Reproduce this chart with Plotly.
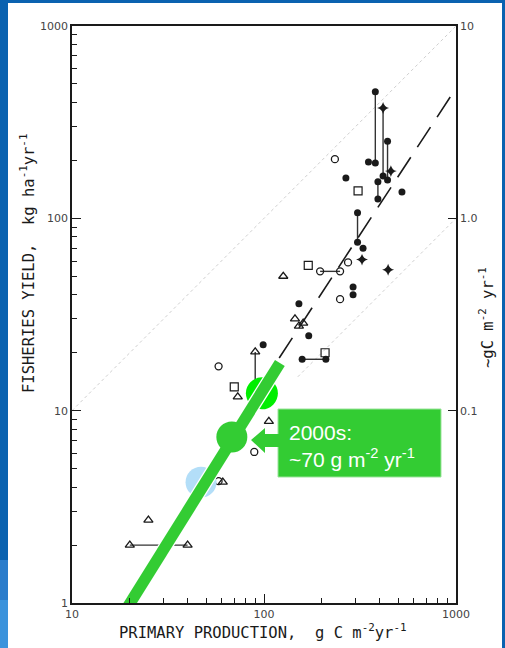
import plotly.graph_objects as go

# ---------------- data ----------------
filled_x = [380, 350, 380, 440, 417, 440, 392, 523, 392, 267, 307, 307, 328, 291, 291, 152, 171, 99, 158, 210]
filled_y = [455, 196, 194, 252, 166, 158, 155, 137, 126, 162, 107, 75, 70, 44, 40, 36, 24.5, 22, 18.5, 18.5]
star_x = [417, 458, 324, 443]
star_y = [375, 176, 61, 54]
ocirc_x = [234, 274, 196, 249, 249, 58, 89, 58]
ocirc_y = [203, 59, 53, 53, 38, 17, 6.1, 4.3]
osq_x = [309, 170, 208, 70]
osq_y = [139, 57, 20, 13.3]
otri_x = [126, 145, 160, 152, 73, 106, 61, 25, 20, 40, 90]
otri_y = [50, 30, 28.5, 27.5, 11.8, 8.8, 4.25, 2.7, 2.0, 2.0, 20.2]
# connector segments (x pairs / y pairs)
seg_x = [[380, 380], [417, 417], [440, 440], [392, 392], [307, 307], [158, 210], [196, 249], [20, 40], [90, 90]]
seg_y = [[455, 194], [375, 166], [252, 158], [155, 126], [107, 75], [18.5, 18.5], [53, 53], [2.0, 2.0], [14.4, 20.2]]
# regression (dashed) and reference (dotted) lines
reg_x = [120, 1000]
reg_y = [18.8, 475]
one_to_one_x = [10, 1000]
one_to_one_y = [10, 1000]
tenth_x = [150, 1000]
tenth_y = [15, 100]
# green highlight line and circles
green_x = [19.5, 121]
green_y = [0.953, 17.7]
circ_bright = (97.5, 12.3)
circ_dark = (68, 7.3)
circ_blue = (47, 4.25)
# tick labels
x_tickvals = [10, 100, 1000]
x_ticktext = ["10", "100", "1000"]
y_tickvals = [1, 10, 100, 1000]
y_ticktext = ["1", "10", "100", "1000"]
y2_tickvals = [0.1, 1, 10]
y2_ticktext = ["0.1", "1.0", "10"]
minor_vals = [m * d for d in (1, 10, 100) for m in range(2, 10)]

# ---------------- layout geometry ----------------
W, H = 505, 648
L, R, T, B = 72, 49, 26, 45
PW, PH = W - L - R, H - T - B


def fx(px):
    return (px - L) / PW


def fy(py):
    return (H - B - py) / PH


INK = "#1a1a1a"
GREEN = "#33cc33"
TITLE_FONT = dict(family="DejaVu Sans Mono", size=15.5, color=INK)

fig = go.Figure()

# reference lines
fig.add_trace(go.Scatter(x=one_to_one_x, y=one_to_one_y, mode="lines",
                         line=dict(color="#cfcfcf", width=1, dash="dot"), hoverinfo="skip"))
fig.add_trace(go.Scatter(x=tenth_x, y=tenth_y, mode="lines",
                         line=dict(color="#cfcfcf", width=1, dash="dot"), hoverinfo="skip"))
fig.add_trace(go.Scatter(x=reg_x, y=reg_y, mode="lines",
                         line=dict(color=INK, width=1.6, dash="24px,12px"), hoverinfo="skip"))

# connectors
cx, cy = [], []
for a, b in zip(seg_x, seg_y):
    cx += a + [None]
    cy += b + [None]
fig.add_trace(go.Scatter(x=cx, y=cy, mode="lines", line=dict(color="#333", width=1.4), hoverinfo="skip"))

# data points
fig.add_trace(go.Scatter(x=filled_x, y=filled_y, mode="markers",
                         marker=dict(symbol="circle", size=7, color=INK)))
fig.add_trace(go.Scatter(x=star_x, y=star_y, mode="markers",
                         marker=dict(symbol="star-diamond", size=8.5, color=INK)))
fig.add_trace(go.Scatter(x=ocirc_x, y=ocirc_y, mode="markers",
                         marker=dict(symbol="circle-open", size=7, color=INK, line=dict(width=1.3))))
fig.add_trace(go.Scatter(x=osq_x, y=osq_y, mode="markers",
                         marker=dict(symbol="square-open", size=8, color=INK, line=dict(width=1.2))))
fig.add_trace(go.Scatter(x=otri_x, y=otri_y, mode="markers",
                         marker=dict(symbol="triangle-up-open", size=8, color=INK, line=dict(width=1.3))))

# green highlight overlay
fig.add_trace(go.Scatter(x=[circ_blue[0]], y=[circ_blue[1]], mode="markers",
                         marker=dict(size=31, color="#b3def8"), hoverinfo="skip"))
fig.add_trace(go.Scatter(x=[circ_bright[0]], y=[circ_bright[1]], mode="markers",
                         marker=dict(size=32, color="#00ee00"), hoverinfo="skip"))
fig.add_trace(go.Scatter(x=green_x, y=green_y, mode="lines",
                         line=dict(color="white", width=14), hoverinfo="skip"))
fig.add_trace(go.Scatter(x=green_x, y=green_y, mode="lines",
                         line=dict(color=GREEN, width=11.5), hoverinfo="skip"))
fig.add_trace(go.Scatter(x=[circ_dark[0]], y=[circ_dark[1]], mode="markers",
                         marker=dict(size=31, color=GREEN), hoverinfo="skip"))

# invisible trace for right axis
fig.add_trace(go.Scatter(x=[10], y=[1], yaxis="y2", mode="markers",
                         marker=dict(opacity=0), hoverinfo="skip"))

shapes = [
    # white slide panel
    dict(type="rect", xref="paper", yref="paper", x0=fx(8), x1=fx(502), y0=fy(650), y1=fy(3),
         fillcolor="white", line=dict(width=0), layer="below"),
    # lighter blue at bottom-left of slide border
    dict(type="rect", xref="paper", yref="paper", x0=fx(0), x1=fx(8), y0=fy(648), y1=fy(600),
         fillcolor="#3b93dc", line=dict(width=0), layer="below"),
    dict(type="rect", xref="paper", yref="paper", x0=fx(0), x1=fx(8), y0=fy(600), y1=fy(560),
         fillcolor="#2a7ccb", line=dict(width=0), layer="below"),
    # annotation box
    dict(type="rect", xref="paper", yref="paper", x0=fx(278), x1=fx(441), y0=fy(477), y1=fy(409),
         fillcolor=GREEN, line=dict(color="#9be39b", width=1), layer="above"),
    # arrow
    dict(type="path", xref="paper", yref="paper", layer="above", fillcolor=GREEN, line=dict(width=0),
         path=(f"M {fx(251)} {fy(440)} L {fx(265)} {fy(428)} L {fx(265)} {fy(434)} "
               f"L {fx(279)} {fy(434)} L {fx(279)} {fy(447)} L {fx(265)} {fy(447)} "
               f"L {fx(265)} {fy(453)} Z")),
]

annotations = [
    dict(xref="paper", yref="paper", x=fx(287), y=fy(446), xanchor="left", yanchor="middle",
         text="2000s:<br>~70 g m<sup>-2</sup> yr<sup>-1</sup>", showarrow=False, align="left",
         font=dict(family="Liberation Sans, Arial", size=21, color="white")),
    dict(xref="paper", yref="paper", x=fx(262), y=fy(631), xanchor="center", yanchor="middle",
         text="PRIMARY PRODUCTION,  g C m<sup>-2</sup>yr<sup>-1</sup>", showarrow=False,
         font=TITLE_FONT),
    dict(xref="paper", yref="paper", x=fx(27), y=fy(264), xanchor="center", yanchor="middle",
         text="FISHERIES YIELD,  kg ha<sup>-1</sup>yr<sup>-1</sup>", showarrow=False, textangle=-90,
         font=TITLE_FONT),
    dict(xref="paper", yref="paper", x=fx(487), y=fy(318), xanchor="center", yanchor="middle",
         text="~gC m<sup>-2</sup> yr<sup>-1</sup>", showarrow=False, textangle=-90,
         font=TITLE_FONT),
]

tickfont = dict(family="DejaVu Sans", size=11, color="#444")

fig.update_layout(
    width=W, height=H,
    margin=dict(l=L, r=R, t=T, b=B, pad=0),
    paper_bgcolor="#0a62b0",
    plot_bgcolor="white",
    showlegend=False,
    shapes=shapes,
    annotations=annotations,
    xaxis=dict(type="log", range=[1, 3], showline=True, linecolor=INK, linewidth=1.5, mirror=True,
               ticks="inside", ticklen=9, tickwidth=1.3, tickcolor=INK,
               tickvals=x_tickvals, ticktext=x_ticktext, tickfont=tickfont,
               minor=dict(ticks="inside", ticklen=5, tickwidth=1, tickcolor=INK, tickvals=minor_vals,
                          showgrid=False),
               showgrid=False, zeroline=False),
    yaxis=dict(type="log", range=[0, 3], showline=True, linecolor=INK, linewidth=1.5,
               ticks="inside", ticklen=9, tickwidth=1.3, tickcolor=INK,
               tickvals=y_tickvals, ticktext=y_ticktext, tickfont=tickfont,
               minor=dict(ticks="inside", ticklen=5, tickwidth=1, tickcolor=INK, tickvals=minor_vals,
                          showgrid=False),
               showgrid=False, zeroline=False),
    yaxis2=dict(type="log", range=[-2, 1], overlaying="y", side="right", anchor="x",
                showline=True, linecolor=INK, linewidth=1.5,
                ticks="inside", ticklen=8, tickwidth=1.3, tickcolor=INK,
                tickvals=y2_tickvals, ticktext=y2_ticktext, tickfont=tickfont,
                showgrid=False, zeroline=False),
)

fig.write_html("out.html")
